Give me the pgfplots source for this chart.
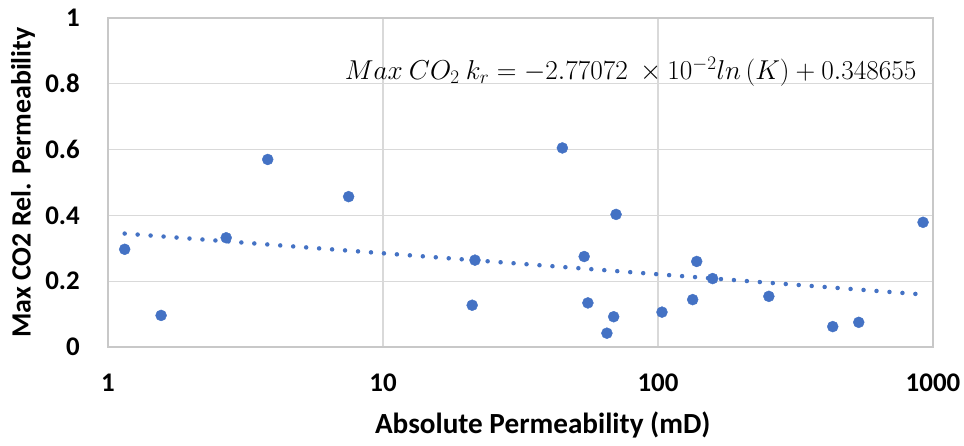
\RequirePackage{fix-cm}
\documentclass[border=0pt]{standalone}
\usepackage{fontspec}
\setmainfont{Carlito}
\usepackage{pgfplots}
\pgfplotsset{compat=1.18}
\definecolor{ptblue}{RGB}{68,114,196}
\definecolor{gridgray}{RGB}{217,217,217}
\definecolor{framegray}{RGB}{200,200,200}
\pgfplotstableread{
x y
1.15 0.297
1.56 0.096
2.69 0.332
3.81 0.570
7.5 0.457
21.6 0.264
21.1 0.127
44.9 0.605
53.9 0.275
70.4 0.403
55.6 0.134
69.0 0.092
65.2 0.042
103.4 0.106
133.7 0.144
138.3 0.260
158 0.208
253 0.154
432 0.062
537 0.075
920 0.379
}\data
\pgfplotstableread{
x y
1.15 0.3448
920 0.1596
}\trend
\begin{document}
\begin{tikzpicture}
\begin{axis}[
 name=ax,
 scale only axis, width=825bp, height=329bp,
 xmode=log, log basis x=10,
 xmin=1, xmax=1000, ymin=0, ymax=1,
 xtick={1,10,100,1000}, xticklabels={1,10,100,1000},
 ytick={0,0.2,0.4,0.6,0.8,1}, yticklabels={0,0.2,0.4,0.6,0.8,1},
 minor xtick={},
 grid=major, major grid style={gridgray, line width=1.2bp},
 axis line style={framegray, line width=1.4bp},
 major tick length=0pt, tick style={draw=none},
 ticklabel style={font=\fontsize{27}{31}\selectfont\bfseries, inner sep=0pt},
 yticklabel style={anchor=east, xshift=-28bp},
 xticklabel style={anchor=center, yshift=-36bp},
 xlabel={Absolute Permeability (mD)},
 ylabel={Max CO2 Rel. Permeability},
 xlabel style={font=\fontsize{29.3}{33}\selectfont\bfseries, at={(axis description cs:0.527,-0.237)}, anchor=center},
 ylabel style={font=\fontsize{28}{32}\selectfont\bfseries, at={(axis description cs:-0.103,0.5)}, anchor=center},
 clip=false,
]
\addplot[draw=ptblue, line width=4.5bp, line cap=round, dash pattern=on 0bp off 13bp] table[x=x,y=y] {\trend};
\addplot[only marks, mark=*, mark size=5.5bp, mark options={fill=ptblue, draw=ptblue}] table[x=x,y=y] {\data};
\node[anchor=east, font=\fontsize{27.4}{31}\selectfont] at (axis cs:897,0.836) {$Max\ CO_2\ k_r = -2.77072\ \times 10^{-2} ln\,(K) + 0.348655$};
\end{axis}
\pgfresetboundingbox
\path ([xshift=-108bp,yshift=-99bp]ax.south west) rectangle ++(964bp,446bp);
\end{tikzpicture}
\end{document}
